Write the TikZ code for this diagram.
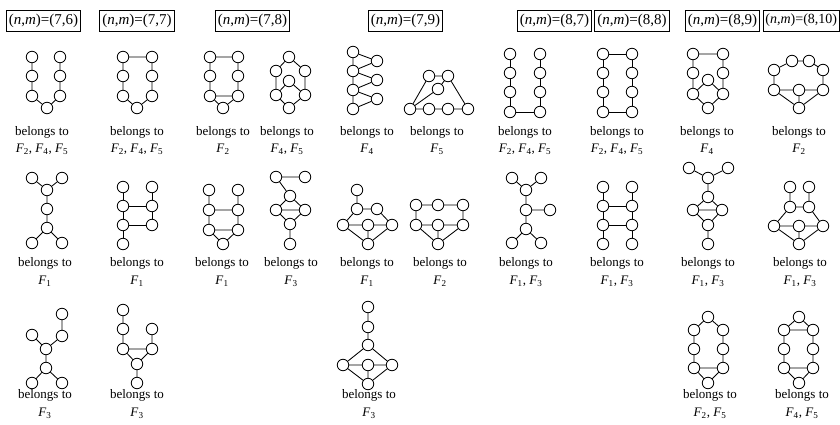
\documentclass[tikz,border=0pt]{standalone}
\usepackage{fontspec}
\setmainfont{Liberation Serif}
\newcommand\Fs[1]{\textit{F}\textsubscript{#1}}
\begin{document}
\begin{tikzpicture}[x=1pt,y=-1pt,
  v/.style={circle,draw,fill=white,minimum size=11.5pt,inner sep=0pt,line width=0.85pt},
  every path/.style={line width=0.85pt},
  hdr/.style={draw,line width=0.8pt,font=\fontsize{15}{18}\selectfont,minimum height=21pt,inner xsep=2.5pt,inner ysep=0pt},
  lab/.style={font=\fontsize{13}{16}\selectfont,inner sep=0pt}]
\useasboundingbox (0,0) rectangle (840,425);
% headers
\node[hdr] (h76) at (43.5,20.5) {(\textit{n},\textit{m})=(7,6)};
\node[hdr] (h77) at (137,20.5) {(\textit{n},\textit{m})=(7,7)};
\node[hdr] (h78) at (252.5,20.5) {(\textit{n},\textit{m})=(7,8)};
\node[hdr] (h79) at (405.5,20.5) {(\textit{n},\textit{m})=(7,9)};
\node[hdr] (h87) at (554.5,20.5) {(\textit{n},\textit{m})=(8,7)};
\node[hdr] (h88) at (632,20.5) {(\textit{n},\textit{m})=(8,8)};
\node[hdr] (h89) at (722.5,20.5) {(\textit{n},\textit{m})=(8,9)};
\node[hdr,anchor=east,font=\fontsize{14}{17}\selectfont,inner xsep=2pt] (h810) at (839.5,20.5) {(\textit{n},\textit{m})=(8,10)};

% ===== Row 1 =====
% G1
\node[v] (a1) at (32,57) {}; \node[v] (a2) at (32,76) {}; \node[v] (a3) at (32,96) {};
\node[v] (a4) at (47,108) {}; \node[v] (a5) at (60,96) {}; \node[v] (a6) at (60,76) {}; \node[v] (a7) at (60,57) {};
\draw (a1)--(a2)--(a3)--(a4)--(a5)--(a6)--(a7);
% G2
\node[v] (b1) at (123,57) {}; \node[v] (b2) at (123,76) {}; \node[v] (b3) at (123,96) {};
\node[v] (b4) at (137,108) {}; \node[v] (b5) at (152,96) {}; \node[v] (b6) at (152,76) {}; \node[v] (b7) at (152,57) {};
\draw (b1)--(b2)--(b3)--(b4)--(b5)--(b6)--(b7)--(b1);
% G3
\node[v] (c1) at (210,57) {}; \node[v] (c2) at (210,76) {}; \node[v] (c3) at (210,96) {};
\node[v] (c4) at (223,108) {}; \node[v] (c5) at (238,96) {}; \node[v] (c6) at (238,76) {}; \node[v] (c7) at (238,57) {};
\draw (c1)--(c2)--(c3)--(c4)--(c5)--(c6)--(c7)--(c1) (c3)--(c5);
% G4
\node[v] (d1) at (289,57) {}; \node[v] (d2) at (276,71) {}; \node[v] (d3) at (305,71) {};
\node[v] (d4) at (289,81) {}; \node[v] (d5) at (276,95) {}; \node[v] (d6) at (305,95) {}; \node[v] (d7) at (289,108) {};
\draw (d2)--(d1)--(d3) (d2)--(d5) (d3)--(d6) (d5)--(d4)--(d6) (d5)--(d7)--(d6);
% G5
\node[v] (e1) at (353,52) {}; \node[v] (e2) at (353,71) {}; \node[v] (e3) at (353,90) {}; \node[v] (e4) at (353,109) {};
\node[v] (e5) at (377,61) {}; \node[v] (e6) at (377,80) {}; \node[v] (e7) at (377,99) {};
\draw (e1)--(e2)--(e3)--(e4) (e1)--(e5)--(e2)--(e6)--(e3)--(e7)--(e4);
% G6
\node[v] (f1) at (429,76) {}; \node[v] (f2) at (448,76) {}; \node[v] (f3) at (438,89) {};
\node[v] (f4) at (410,109) {}; \node[v] (f5) at (429,109) {}; \node[v] (f6) at (448,109) {}; \node[v] (f7) at (468,109) {};
\draw (f1)--(f2) (f1)--(f4) (f2)--(f7) (f2)--(f3)--(f4) (f4)--(f5)--(f6)--(f7);
% G7
\node[v] (g1) at (510,54) {}; \node[v] (g2) at (510,73) {}; \node[v] (g3) at (510,92) {}; \node[v] (g4) at (510,112) {};
\node[v] (g5) at (540,112) {}; \node[v] (g6) at (540,92) {}; \node[v] (g7) at (540,73) {}; \node[v] (g8) at (540,54) {};
\draw (g1)--(g2)--(g3)--(g4)--(g5)--(g6)--(g7)--(g8);
% G8
\node[v] (h1) at (603,54) {}; \node[v] (h2) at (603,73) {}; \node[v] (h3) at (603,92) {}; \node[v] (h4) at (603,112) {};
\node[v] (h5) at (632,112) {}; \node[v] (h6) at (632,92) {}; \node[v] (h7) at (632,73) {}; \node[v] (h8) at (632,54) {};
\draw (h1)--(h2)--(h3)--(h4)--(h5)--(h6)--(h7)--(h8)--(h1);
% G9
\node[v] (i1) at (693,54) {}; \node[v] (i2) at (723,54) {}; \node[v] (i3) at (693,73) {}; \node[v] (i4) at (723,73) {};
\node[v] (i5) at (693,94) {}; \node[v] (i6) at (723,94) {}; \node[v] (i7) at (708,80) {}; \node[v] (i8) at (708,108) {};
\draw (i3)--(i1)--(i2)--(i4)--(i6) (i3)--(i5) (i5)--(i7)--(i6) (i5)--(i8)--(i6);
% G10
\node[v] (j1) at (792,61) {}; \node[v] (j2) at (809,61) {}; \node[v] (j3) at (774,70) {}; \node[v] (j4) at (823,70) {};
\node[v] (j5) at (774,90) {}; \node[v] (j6) at (799,90) {}; \node[v] (j7) at (823,90) {}; \node[v] (j8) at (799,108) {};
\draw (j5)--(j3)--(j1)--(j2)--(j4)--(j7) (j5)--(j6)--(j7) (j5)--(j8)--(j7) (j6)--(j8);

% ===== Row 2 =====
% G11
\node[v] (k1) at (32,178) {}; \node[v] (k2) at (62,178) {}; \node[v] (k3) at (47,190) {}; \node[v] (k4) at (47,209) {};
\node[v] (k5) at (47,228) {}; \node[v] (k6) at (32,243) {}; \node[v] (k7) at (62,243) {};
\draw (k1)--(k3)--(k2) (k3)--(k4)--(k5) (k6)--(k5)--(k7);
% G12
\node[v] (l1) at (123,187) {}; \node[v] (l2) at (123,206) {}; \node[v] (l3) at (123,225) {}; \node[v] (l4) at (123,244) {};
\node[v] (l5) at (152,187) {}; \node[v] (l6) at (152,206) {}; \node[v] (l7) at (152,225) {};
\draw (l1)--(l2)--(l3)--(l4) (l5)--(l6)--(l7) (l2)--(l6) (l3)--(l7);
% G13
\node[v] (m1) at (209,190) {}; \node[v] (m2) at (209,210) {}; \node[v] (m3) at (209,230) {};
\node[v] (m4) at (238,190) {}; \node[v] (m5) at (238,210) {}; \node[v] (m6) at (238,230) {}; \node[v] (m7) at (223,244) {};
\draw (m1)--(m2)--(m3) (m4)--(m5)--(m6) (m2)--(m5) (m3)--(m6) (m3)--(m7)--(m6);
% G14
\node[v] (n1) at (276,177) {}; \node[v] (n2) at (305,177) {}; \node[v] (n3) at (290,196) {}; \node[v] (n4) at (276,210) {};
\node[v] (n5) at (305,210) {}; \node[v] (n6) at (290,224) {}; \node[v] (n7) at (290,244) {};
\draw (n2)--(n1)--(n3)--(n4)--(n5)--(n3) (n4)--(n6)--(n5) (n6)--(n7);
% G15
\node[v] (o1) at (357,190) {}; \node[v] (o2) at (357,209) {}; \node[v] (o3) at (377,209) {};
\node[v] (o4) at (343,225) {}; \node[v] (o5) at (368,225) {}; \node[v] (o6) at (392,225) {}; \node[v] (o7) at (368,244) {};
\draw (o1)--(o2)--(o3)--(o6) (o2)--(o4)--(o5)--(o6) (o4)--(o7)--(o6) (o5)--(o7);
% G16
\node[v] (p1) at (416,205) {}; \node[v] (p2) at (438,205) {}; \node[v] (p3) at (463,205) {};
\node[v] (p4) at (416,225) {}; \node[v] (p5) at (438,225) {}; \node[v] (p6) at (463,225) {}; \node[v] (p7) at (438,244) {};
\draw (p4)--(p1)--(p2)--(p3)--(p6) (p4)--(p5)--(p6) (p4)--(p7)--(p6) (p5)--(p7);
% G17
\node[v] (q1) at (512,178) {}; \node[v] (q2) at (541,178) {}; \node[v] (q3) at (526,190) {}; \node[v] (q4) at (526,210) {};
\node[v] (q5) at (550,210) {}; \node[v] (q6) at (526,229) {}; \node[v] (q7) at (512,243) {}; \node[v] (q8) at (541,243) {};
\draw (q1)--(q3)--(q2) (q3)--(q4)--(q6) (q4)--(q5) (q7)--(q6)--(q8);
% G18
\node[v] (r1) at (603,187) {}; \node[v] (r2) at (603,206) {}; \node[v] (r3) at (603,225) {}; \node[v] (r4) at (603,244) {};
\node[v] (r5) at (632,187) {}; \node[v] (r6) at (632,206) {}; \node[v] (r7) at (632,225) {}; \node[v] (r8) at (632,244) {};
\draw (r1)--(r2)--(r3)--(r4) (r5)--(r6)--(r7)--(r8) (r2)--(r6) (r3)--(r7);
% G19
\node[v] (s1) at (689,168) {}; \node[v] (s2) at (728,168) {}; \node[v] (s3) at (708,178) {}; \node[v] (s4) at (708,197) {};
\node[v] (s5) at (693,210) {}; \node[v] (s6) at (722,210) {}; \node[v] (s7) at (708,225) {}; \node[v] (s8) at (708,244) {};
\draw (s1)--(s3)--(s2) (s3)--(s4) (s5)--(s4)--(s6) (s5)--(s6) (s5)--(s7)--(s6) (s7)--(s8);
% G20
\node[v] (t1) at (790,187) {}; \node[v] (t2) at (809,187) {}; \node[v] (t3) at (790,207) {}; \node[v] (t4) at (809,207) {};
\node[v] (t5) at (774,226) {}; \node[v] (t6) at (799,226) {}; \node[v] (t7) at (823,226) {}; \node[v] (t8) at (799,244) {};
\draw (t1)--(t3)--(t4)--(t2) (t5)--(t3) (t4)--(t7) (t5)--(t6)--(t7) (t5)--(t8)--(t7) (t6)--(t8);

% ===== Row 3 =====
% G21
\node[v] (u1) at (62,314) {}; \node[v] (u2) at (62,336) {}; \node[v] (u3) at (32,335) {}; \node[v] (u4) at (46,349) {};
\node[v] (u5) at (46,368) {}; \node[v] (u6) at (32,383) {}; \node[v] (u7) at (62,383) {};
\draw (u1)--(u2)--(u4)--(u3) (u4)--(u5) (u6)--(u5)--(u7);
% G22
\node[v] (w1) at (123,310) {}; \node[v] (w2) at (123,329) {}; \node[v] (w3) at (123,349) {};
\node[v] (w4) at (152,329) {}; \node[v] (w5) at (152,349) {}; \node[v] (w6) at (137,364) {}; \node[v] (w7) at (137,383) {};
\draw (w1)--(w2)--(w3)--(w5)--(w4) (w3)--(w6)--(w5) (w6)--(w7);
% G23
\node[v] (x1) at (368,307) {}; \node[v] (x2) at (368,327) {}; \node[v] (x3) at (368,345) {};
\node[v] (x4) at (343,365) {}; \node[v] (x5) at (368,365) {}; \node[v] (x6) at (392,365) {}; \node[v] (x7) at (368,384) {};
\draw (x1)--(x2)--(x3) (x4)--(x3)--(x6) (x4)--(x5)--(x6) (x4)--(x7)--(x6) (x5)--(x7);
% G24
\node[v] (y1) at (708,317) {}; \node[v] (y2) at (694,330) {}; \node[v] (y3) at (723,330) {}; \node[v] (y4) at (694,349) {};
\node[v] (y5) at (723,349) {}; \node[v] (y6) at (694,368) {}; \node[v] (y7) at (723,368) {}; \node[v] (y8) at (708,383) {};
\draw (y2)--(y1)--(y3) (y2)--(y4)--(y6) (y3)--(y5)--(y7) (y6)--(y7) (y6)--(y8)--(y7);
% G25
\node[v] (z1) at (799,317) {}; \node[v] (z2) at (784,330) {}; \node[v] (z3) at (813,330) {}; \node[v] (z4) at (784,349) {};
\node[v] (z5) at (813,349) {}; \node[v] (z6) at (784,368) {}; \node[v] (z7) at (813,368) {}; \node[v] (z8) at (799,383) {};
\draw (z2)--(z1)--(z3) (z2)--(z3) (z2)--(z4)--(z6) (z3)--(z5)--(z7) (z6)--(z7) (z6)--(z8)--(z7);

% ===== Labels =====
\node[lab] (la1) at (42,132) {belongs to}; \node[lab] (lb1) at (42,149) {\Fs{2}, \Fs{4}, \Fs{5}};
\node[lab] (la2) at (137,132) {belongs to}; \node[lab] (lb2) at (137,149) {\Fs{2}, \Fs{4}, \Fs{5}};
\node[lab] (la3) at (223,132) {belongs to}; \node[lab] (lb3) at (223,149) {\Fs{2}};
\node[lab] (la4) at (287,132) {belongs to}; \node[lab] (lb4) at (287,149) {\Fs{4}, \Fs{5}};
\node[lab] (la5) at (367,132) {belongs to}; \node[lab] (lb5) at (367,149) {\Fs{4}};
\node[lab] (la6) at (437,132) {belongs to}; \node[lab] (lb6) at (437,149) {\Fs{5}};
\node[lab] (la7) at (525,132) {belongs to}; \node[lab] (lb7) at (525,149) {\Fs{2}, \Fs{4}, \Fs{5}};
\node[lab] (la8) at (617,132) {belongs to}; \node[lab] (lb8) at (617,149) {\Fs{2}, \Fs{4}, \Fs{5}};
\node[lab] (la9) at (707,132) {belongs to}; \node[lab] (lb9) at (707,149) {\Fs{4}};
\node[lab] (la10) at (799,132) {belongs to}; \node[lab] (lb10) at (799,149) {\Fs{2}};

\node[lab] (la11) at (45,263) {belongs to}; \node[lab] (lb11) at (45,281) {\Fs{1}};
\node[lab] (la12) at (137,263) {belongs to}; \node[lab] (lb12) at (137,281) {\Fs{1}};
\node[lab] (la13) at (222,263) {belongs to}; \node[lab] (lb13) at (222,281) {\Fs{1}};
\node[lab] (la14) at (291,263) {belongs to}; \node[lab] (lb14) at (291,281) {\Fs{3}};
\node[lab] (la15) at (367,263) {belongs to}; \node[lab] (lb15) at (367,281) {\Fs{1}};
\node[lab] (la16) at (440,263) {belongs to}; \node[lab] (lb16) at (440,281) {\Fs{2}};
\node[lab] (la17) at (526,263) {belongs to}; \node[lab] (lb17) at (526,281) {\Fs{1}, \Fs{3}};
\node[lab] (la18) at (617,263) {belongs to}; \node[lab] (lb18) at (617,281) {\Fs{1}, \Fs{3}};
\node[lab] (la19) at (708,263) {belongs to}; \node[lab] (lb19) at (708,281) {\Fs{1}, \Fs{3}};
\node[lab] (la20) at (800,263) {belongs to}; \node[lab] (lb20) at (800,281) {\Fs{1}, \Fs{3}};

\node[lab] (la21) at (45,395) {belongs to}; \node[lab] (lb21) at (45,413) {\Fs{3}};
\node[lab] (la22) at (137,395) {belongs to}; \node[lab] (lb22) at (137,413) {\Fs{3}};
\node[lab] (la23) at (369,395) {belongs to}; \node[lab] (lb23) at (369,413) {\Fs{3}};
\node[lab] (la24) at (710,395) {belongs to}; \node[lab] (lb24) at (710,413) {\Fs{2}, \Fs{5}};
\node[lab] (la25) at (802,395) {belongs to}; \node[lab] (lb25) at (802,413) {\Fs{4}, \Fs{5}};
\end{tikzpicture}
\end{document}
